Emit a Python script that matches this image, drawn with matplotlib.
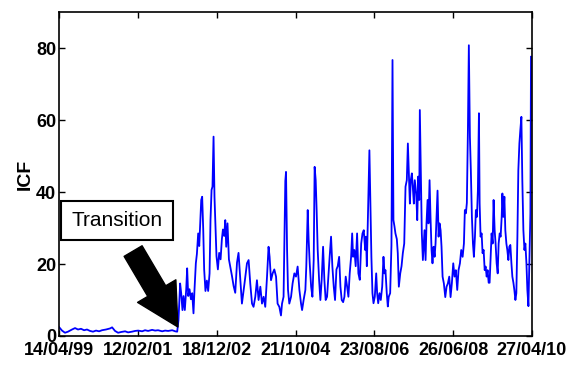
import numpy as np
import matplotlib
matplotlib.use('Agg')
import matplotlib.pyplot as plt
import matplotlib.dates as mdates
from matplotlib import font_manager

# days since 14/04/1999 and ICF values
days = [0, 26, 51, 77, 111, 137, 162, 188, 214, 239, 265, 290, 316, 342, 367, 401, 436, 453, 478, 504,
        529, 564, 589, 623, 649, 675, 709, 734, 760, 794, 820, 845, 880, 905, 931, 965, 991, 1008,
        1019, 1033, 1042, 1053, 1062, 1073, 1085, 1093, 1102, 1113, 1125, 1136, 1147, 1155, 1167, 1176,
        1187, 1196, 1204, 1213, 1221, 1230, 1238, 1249, 1261, 1272, 1284, 1292, 1301, 1309, 1318, 1326,
        1335, 1343, 1355, 1366, 1378, 1389, 1398, 1409, 1418, 1426, 1437, 1449, 1460, 1475, 1489, 1503,
        1518, 1531, 1560, 1582, 1603, 1617, 1631, 1646, 1659, 1674, 1688, 1702, 1717, 1731, 1745, 1759,
        1774, 1787, 1796, 1808, 1822, 1836, 1851, 1864, 1879, 1893, 1902, 1915, 1930, 1936, 1945, 1953,
        1964, 1979, 1992, 2007, 2021, 2035, 2050, 2064, 2073, 2086, 2101, 2109, 2121, 2129, 2138, 2150,
        2161, 2172, 2180, 2189, 2197, 2206, 2218, 2229, 2240, 2252, 2263, 2274, 2286, 2297, 2308, 2320,
        2331, 2343, 2354, 2366, 2377, 2389, 2400, 2411, 2423, 2434, 2445, 2457, 2468, 2479, 2491, 2500,
        2508, 2519, 2530, 2542, 2553, 2565, 2577, 2588, 2599, 2611, 2618, 2625, 2630, 2639, 2647, 2656,
        2664, 2673, 2682, 2693, 2705, 2713, 2722, 2733, 2744, 2756, 2767, 2776, 2784, 2795, 2804, 2812,
        2824, 2835, 2844, 2852, 2861, 2869, 2881, 2889, 2898, 2910, 2921, 2932, 2944, 2955, 2966, 2975,
        2983, 2992, 3000, 3009, 3017, 3026, 3034, 3046, 3055, 3063, 3072, 3077, 3086, 3094, 3103, 3117,
        3126, 3134, 3143, 3151, 3160, 3168, 3177, 3185, 3194, 3203, 3211, 3220, 3228, 3237, 3245, 3254,
        3262, 3271, 3282, 3294, 3305, 3316, 3328, 3339, 3350, 3362, 3373, 3384, 3396, 3407, 3419, 3430,
        3442, 3453, 3461, 3470, 3478, 3487, 3495, 3504, 3512, 3521, 3530, 3538, 3547, 3555, 3564, 3572,
        3581, 3587, 3595, 3604, 3612, 3621, 3630, 3638, 3647, 3655, 3664, 3672, 3681, 3689, 3698, 3706,
        3715, 3723, 3732, 3741, 3749, 3758, 3766, 3775, 3781, 3789, 3798, 3806, 3815, 3823, 3832, 3840,
        3849, 3858, 3866, 3875, 3883, 3892, 3900, 3909, 3917, 3926, 3934, 3943, 3951, 3960, 3969, 3977,
        3986, 3994, 4003, 4011, 4020, 4025]
icf = [2.5, 1.5, 0.9, 1.2, 1.8, 2.2, 1.8, 2.0, 1.6, 1.8, 1.4, 1.2, 1.5, 1.3, 1.6, 1.8, 2.1, 2.4, 1.4, 0.9,
       1.1, 1.3, 1.0, 1.2, 1.4, 1.5, 1.3, 1.6, 1.4, 1.7, 1.5, 1.6, 1.3, 1.5, 1.4, 1.6, 1.3, 1.2,
       4.4, 14.6, 11.9, 7.2, 11.1, 7.2, 13.0, 18.8, 11.1, 13.0, 10.2, 11.9, 6.3, 12.5, 20.2, 22.8,
       28.5, 25.0, 31.3, 37.8, 38.7, 29.6, 18.5, 12.5, 15.4, 12.5, 17.4, 32.2, 40.6, 41.5, 55.4, 38.7,
       29.6, 22.2, 18.5, 23.1, 21.3, 26.9, 29.6, 27.8, 32.2, 24.8, 31.3, 21.3, 19.4, 16.7, 13.9, 12.0,
       20.4, 23.1, 9.0, 14.6, 20.2, 21.1, 14.6, 9.0, 8.1, 10.9, 15.5, 10.0, 13.7, 9.0, 10.9, 8.1,
       16.5, 24.8, 22.0, 15.5, 17.4, 18.5, 16.5, 9.0, 8.1, 5.7, 9.0, 10.9, 43.1, 45.6, 23.9, 12.8,
       9.0, 10.9, 14.6, 17.4, 16.5, 19.3, 12.8, 9.0, 7.2, 10.0, 12.8, 19.4, 35.0, 26.7, 20.2, 13.7,
       10.9, 21.1, 47.0, 43.3, 35.0, 24.0, 15.6, 10.0, 15.6, 24.8, 15.6, 10.0, 10.9, 16.5, 22.0, 27.6,
       19.4, 13.7, 10.0, 18.5, 19.4, 22.0, 13.7, 10.0, 9.4, 10.9, 16.5, 13.7, 10.9, 17.4, 22.0, 28.5,
       22.0, 23.9, 19.4, 28.5, 17.4, 15.6, 25.7, 28.5, 29.4, 23.9, 27.6, 19.4, 26.9, 41.5, 51.6, 35.9,
       22.0, 11.9, 9.1, 10.9, 17.4, 11.9, 9.1, 11.9, 10.0, 13.7, 22.0, 17.4, 18.3, 11.9, 8.2, 10.9,
       11.9, 25.2, 76.7, 32.2, 30.4, 28.5, 26.9, 23.0, 13.7, 17.4, 19.4, 23.0, 25.7, 41.5, 43.3, 53.5,
       45.2, 36.8, 43.3, 45.2, 41.5, 36.8, 43.3, 39.6, 32.2, 44.3, 37.8, 62.8, 45.2, 28.5, 21.1, 29.4,
       21.1, 31.3, 37.8, 31.3, 43.3, 33.1, 23.9, 20.2, 24.8, 22.0, 25.7, 33.1, 40.4, 27.6, 31.3, 29.4,
       24.8, 16.5, 14.6, 10.8, 13.7, 14.6, 16.5, 10.8, 14.6, 20.2, 16.5, 18.3, 12.8, 18.3, 20.2, 23.9,
       22.0, 25.7, 35.0, 34.1, 37.0, 57.2, 80.8, 55.4, 46.1, 33.1, 25.7, 22.0, 27.6, 35.0, 33.1, 40.4,
       61.9, 36.8, 27.6, 28.5, 23.0, 23.9, 18.3, 19.3, 16.5, 18.3, 14.8, 14.8, 22.0, 28.5, 25.7, 37.8,
       29.4, 25.7, 20.2, 17.4, 25.7, 28.5, 27.6, 33.1, 39.6, 33.1, 38.7, 29.4, 25.7, 23.9, 21.1, 24.8,
       25.3, 20.2, 16.5, 14.8, 12.8, 10.0, 11.9, 27.6, 46.1, 53.5, 57.2, 60.9, 43.3, 29.4, 23.9, 25.7,
       20.2, 12.8, 8.3, 20.2, 34.1, 77.6]

tick_dates = ['1999-04-14', '2001-02-12', '2002-12-18', '2004-10-21',
              '2006-08-23', '2008-06-26', '2010-04-27']

start = np.datetime64('1999-04-14')
t = start + np.array(days).astype('timedelta64[D]')

# prefer a narrow sans if one is installed
installed = {f.name for f in font_manager.fontManager.ttflist}
narrow = [f for f in ['Liberation Sans Narrow', 'Arial Narrow', 'DejaVu Sans Condensed']
          if f in installed]
if narrow:
    fam = [narrow[0], 'DejaVu Sans']
    tick_fs, lab_fs, note_fs = 15, 15, 17
else:
    fam = ['Liberation Sans', 'DejaVu Sans']
    tick_fs, lab_fs, note_fs = 13, 14, 15
plt.rcParams['font.family'] = fam

fig = plt.figure(figsize=(5.76, 3.68), dpi=100)
ax = fig.add_axes([0.1024, 0.087, 0.8207, 0.880])

ax.plot(t, icf, color='#0000ff', lw=1.3)

ax.set_xlim(np.datetime64(tick_dates[0]), np.datetime64(tick_dates[-1]))
ax.set_ylim(0, 90)
ax.set_xticks([np.datetime64(d) for d in tick_dates])
ax.xaxis.set_major_formatter(mdates.DateFormatter('%d/%m/%y'))
ax.set_yticks([0, 20, 40, 60, 80])

ax.tick_params(direction='in', length=4, width=1, top=True, right=True,
               labelsize=tick_fs)
ax.tick_params(axis='x', pad=4)
ax.tick_params(axis='y', pad=2)
for lab in ax.get_xticklabels() + ax.get_yticklabels():
    lab.set_fontweight('bold')
for sp in ax.spines.values():
    sp.set_linewidth(1.2)

ax.set_ylabel('ICF', fontsize=lab_fs, fontweight='bold', labelpad=2)

# annotation
ax.annotate('', xy=(start + np.timedelta64(1014, 'D'), 2.5),
            xytext=(start + np.timedelta64(632, 'D'), 23.6),
            arrowprops=dict(arrowstyle='simple,head_length=1.5,head_width=1.6,tail_width=0.75',
                            mutation_scale=20, color='black', shrinkA=0, shrinkB=0))
ax.text(start + np.timedelta64(491, 'D'), 32.1, 'Transition', fontsize=note_fs,
        ha='center', va='center',
        bbox=dict(boxstyle='square,pad=0.5', fc='white', ec='black', lw=1.5))

fig.savefig('out.png', dpi=100)
